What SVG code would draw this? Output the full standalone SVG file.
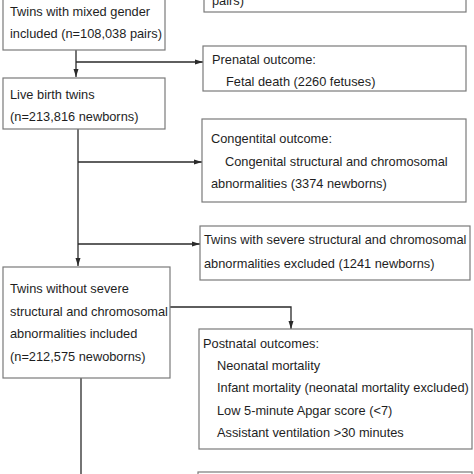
<svg xmlns="http://www.w3.org/2000/svg" width="474" height="474" viewBox="0 0 474 474">
<style>
.box{fill:#fff;stroke:#7a7a7a;stroke-width:1.2}
.t{font-family:"Liberation Sans",Arial,sans-serif;font-size:12.8px;fill:#1e1e1e}
.ln{fill:none;stroke:#2a2a2a;stroke-width:1.3}
</style>
<defs>
<marker id="ah" markerWidth="8" markerHeight="6" refX="8" refY="3" orient="auto" markerUnits="userSpaceOnUse">
<path d="M0,0.5 L8,3 L0,5.5 Z" fill="#2a2a2a"/>
</marker>
</defs>
<rect width="474" height="474" fill="#fff"/>
<g id="connectors">
<path class="ln" d="M76,50 V77" marker-end="url(#ah)"/>
<path class="ln" d="M76,62 H203" marker-end="url(#ah)"/>
<path class="ln" d="M78,129 V266" marker-end="url(#ah)"/>
<path class="ln" d="M78,162 H202" marker-end="url(#ah)"/>
<path class="ln" d="M78,244 H200" marker-end="url(#ah)"/>
<path class="ln" d="M170,307 H291 V329" marker-end="url(#ah)"/>
<path class="ln" d="M81,378 V474"/>
</g>
<g id="node-top-right">
<rect class="box" x="204" y="-6" width="262" height="18"/>
<text class="t" x="212" y="5">pairs)</text>
</g>
<g id="node-mixed-gender">
<rect class="box" x="3" y="-6" width="162" height="56"/>
<text class="t" x="10" y="16">Twins with mixed gender</text>
<text class="t" x="10" y="38">included (n=108,038 pairs)</text>
</g>
<g id="node-prenatal">
<rect class="box" x="203" y="46" width="263" height="45"/>
<text class="t" x="212" y="64">Prenatal outcome:</text>
<text class="t" x="226" y="86">Fetal death (2260 fetuses)</text>
</g>
<g id="node-live-birth">
<rect class="box" x="3" y="78" width="162" height="51"/>
<text class="t" x="10" y="99">Live birth twins</text>
<text class="t" x="10" y="121">(n=213,816 newborns)</text>
</g>
<g id="node-congenital">
<rect class="box" x="202" y="119" width="264" height="83"/>
<text class="t" x="211" y="143">Congentital outcome:</text>
<text class="t" x="225" y="166">Congenital structural and chromosomal</text>
<text class="t" x="211" y="188">abnormalities (3374 newborns)</text>
</g>
<g id="node-excluded">
<rect class="box" x="200" y="226" width="270" height="54"/>
<text class="t" x="204" y="244">Twins with severe structural and chromosomal</text>
<text class="t" x="204" y="268">abnormalities excluded (1241 newborns)</text>
</g>
<g id="node-included">
<rect class="box" x="3" y="267" width="167" height="111"/>
<text class="t" x="10" y="293">Twins without severe</text>
<text class="t" x="10" y="316">structural and chromosomal</text>
<text class="t" x="10" y="338">abnormalities included</text>
<text class="t" x="10" y="361">(n=212,575 newoborns)</text>
</g>
<g id="node-postnatal">
<rect class="box" x="199" y="329" width="273" height="120"/>
<text class="t" x="203" y="348">Postnatal outcomes:</text>
<text class="t" x="217" y="370">Neonatal mortality</text>
<text class="t" x="217" y="392">Infant mortality (neonatal mortality excluded)</text>
<text class="t" x="217" y="415">Low 5-minute Apgar score (&lt;7)</text>
<text class="t" x="217" y="437">Assistant ventilation &gt;30 minutes</text>
</g>
<g id="node-bottom">
<rect class="box" x="198" y="472" width="274" height="10"/>
</g>
</svg>
